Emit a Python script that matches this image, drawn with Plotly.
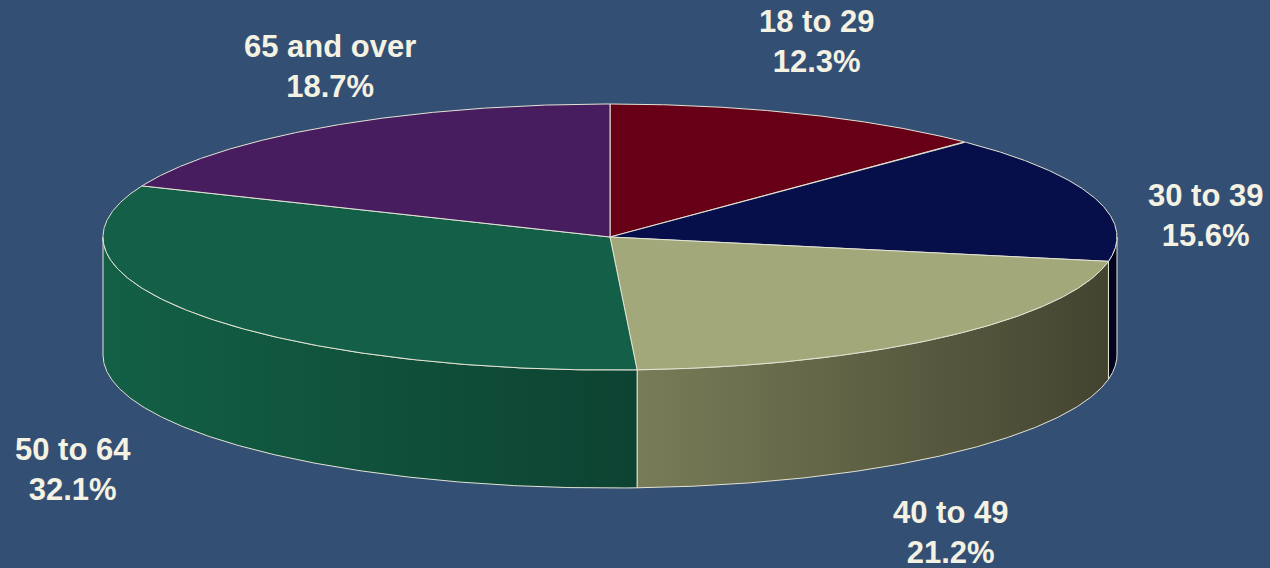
import numpy as np
import plotly.graph_objects as go

# Age bands and their shares of the total (percent)
categories = ["18 to 29", "30 to 39", "40 to 49", "50 to 64", "65 and over"]
shares = [12.3, 15.6, 21.2, 32.1, 18.7]

# Slice colours: top face, and the left/right ends of the shaded rim
top_colors = ["#670016", "#070F4A", "#A2A87A", "#135F47", "#481D60"]
rim_left = ["#4A0010", "#03051F", "#797C57", "#136046", "#34144A"]
rim_right = ["#30000A", "#03051F", "#434430", "#0D4332", "#220C30"]

# Label centres for each slice (pixel space)
label_x = [816, 1205, 950, 73, 330]
label_y = [41, 215, 532, 469, 66]

# Pie geometry in pixel space
W, H = 1270, 568
CX, CY = 610, 237
RX, RY = 507, 133
DEPTH = 118
BG = "#344F74"
EDGE = "#E4E4D4"


def ellipse(t_deg, dy=0.0):
    t = np.radians(t_deg)
    return CX + RX * np.sin(t), CY - RY * np.cos(t) + dy


fig = go.Figure()

total = sum(shares)
bounds = np.concatenate([[0], np.cumsum(shares) / total * 360.0])

# Rim (side wall) for the front half of the cylinder
for i in range(len(categories)):
    a, b = max(bounds[i], 90.0), min(bounds[i + 1], 270.0)
    if b <= a:
        continue
    ts = np.linspace(a, b, 200)
    xt, yt = ellipse(ts)
    xb, yb = ellipse(ts[::-1], DEPTH)
    xs = np.concatenate([xt, xb, xt[:1]])
    ys = np.concatenate([yt, yb, yt[:1]])
    fig.add_trace(go.Scatter(
        x=xs, y=ys, mode="lines", fill="toself",
        line=dict(color=EDGE, width=1),
        fillgradient=dict(type="horizontal",
                          colorscale=[[0, rim_left[i]], [1, rim_right[i]]]),
        hoverinfo="skip", showlegend=False,
    ))

# Top faces of the slices
for i in range(len(categories)):
    ts = np.linspace(bounds[i], bounds[i + 1], 300)
    xa, ya = ellipse(ts)
    xs = np.concatenate([[CX], xa, [CX]])
    ys = np.concatenate([[CY], ya, [CY]])
    fig.add_trace(go.Scatter(
        x=xs, y=ys, mode="lines", fill="toself",
        fillcolor=top_colors[i], line=dict(color=EDGE, width=1),
        name=categories[i], hoverinfo="name", showlegend=False,
    ))

for i, cat in enumerate(categories):
    fig.add_annotation(
        x=label_x[i], y=label_y[i], xref="x", yref="y",
        text=f"{cat}<br>{shares[i]:.1f}%", showarrow=False,
        xanchor="center", yanchor="middle", align="center",
        font=dict(family="Arial, Liberation Sans, sans-serif", size=31,
                  color="#F4F2E2", weight="bold"),
    )

fig.update_layout(
    width=W, height=H,
    margin=dict(l=0, r=0, t=0, b=0),
    paper_bgcolor=BG, plot_bgcolor=BG,
    xaxis=dict(range=[0, W], visible=False, fixedrange=True),
    yaxis=dict(range=[H, 0], visible=False, fixedrange=True),
    showlegend=False,
)

fig.write_html("out.html")
